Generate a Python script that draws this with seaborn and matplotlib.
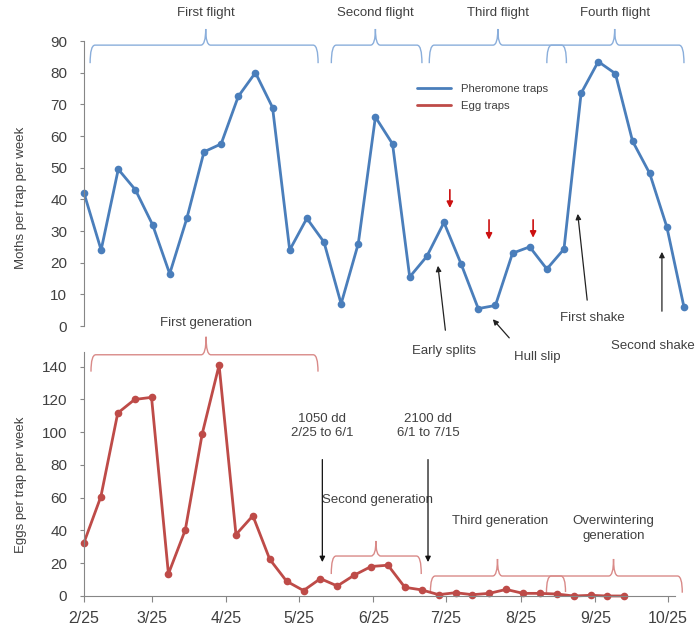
import pandas as pd
import matplotlib
matplotlib.use('Agg')
import matplotlib.pyplot as plt
import seaborn as sns
from matplotlib.path import Path
from matplotlib.patches import PathPatch
from matplotlib.lines import Line2D

# weekly trap counts
moths = [42, 24, 49.5, 43, 32, 16.5, 34, 55, 57.5, 72.5, 80, 69, 24, 34, 26.5, 7,
         26, 66, 57.5, 15.5, 22, 32.7, 19.6, 5.5, 6.5, 23, 25, 18, 24.3, 73.5,
         83.5, 79.7, 58.4, 48.2, 31.3, 6]
eggs = [32.6, 60.7, 111.7, 120, 121.3, 13.5, 40.4, 99, 141, 37.5, 49, 22.4, 9,
        3.3, 10.6, 6.1, 12.7, 18, 18.8, 5.3, 3.7, 0.8, 2, 0.8, 1.6, 4, 1.6, 1.6,
        1.2, 0, 0.4, 0, 0]
tick_labels = ['2/25', '3/25', '4/25', '5/25', '6/25', '7/25', '8/25', '9/25', '10/25']
flights = ['First flight', 'Second flight', 'Third flight', 'Fourth flight']
generations = ['First generation', 'Second generation', 'Third generation',
               'Overwintering\ngeneration']

start = pd.Timestamp('2013-02-25')
moth_days = (pd.date_range(start, periods=len(moths), freq='7D') - start).days
egg_days = (pd.date_range(start, periods=len(eggs), freq='7D') - start).days
tick_days = [(pd.to_datetime('2013/' + t, format='%Y/%m/%d') - start).days for t in tick_labels]

df_moths = pd.DataFrame({'day': moth_days, 'moths': moths})
df_eggs = pd.DataFrame({'day': egg_days, 'eggs': eggs})

sns.set_style('white')
plt.rcParams['font.family'] = ['Liberation Sans', 'DejaVu Sans']

blue = '#4a7ebb'
red = '#be4b48'
blue_br = '#8aaedb'
red_br = '#d98a88'
txt = '#404040'
grey = '#868686'
fs = 9.5


def brace(ax, x0, x1, xm, y_end, y_line, y_tip, color, r=2.0):
    verts = [(x0, y_end), (x0, y_line), (x0 + r, y_line),
             (xm - r, y_line), (xm, y_line), (xm, y_tip),
             (xm, y_line), (xm + r, y_line),
             (x1 - r, y_line), (x1, y_line), (x1, y_end)]
    codes = [Path.MOVETO, Path.CURVE3, Path.CURVE3,
             Path.LINETO, Path.CURVE3, Path.CURVE3,
             Path.CURVE3, Path.CURVE3,
             Path.LINETO, Path.CURVE3, Path.CURVE3]
    ax.add_patch(PathPatch(Path(verts, codes), fill=False, edgecolor=color,
                           lw=1.0, clip_on=False))


def style_axis(ax):
    for s in ['top', 'right']:
        ax.spines[s].set_visible(False)
    ax.spines['left'].set_color(grey)
    ax.spines['bottom'].set_color(grey)
    ax.tick_params(axis='both', direction='out', length=3, color=grey,
                   labelsize=11, labelcolor=txt, left=True, bottom=True)
    ax.tick_params(axis='y', pad=9)


fig = plt.figure(figsize=(6.97, 6.3), dpi=100)
ax1 = fig.add_axes([0.1205, 0.4825, 0.8608, 0.4524])
ax2 = fig.add_axes([0.1205, 0.054, 0.848, 0.3873])
ax1.set_zorder(3)
ax1.patch.set_visible(False)
ax2.patch.set_visible(False)

# top panel: pheromone traps
sns.lineplot(data=df_moths, x='day', y='moths', ax=ax1, color=blue, linewidth=2,
             marker='o', markersize=5.5, markeredgewidth=0, clip_on=False)
style_axis(ax1)
ax1.spines['bottom'].set_visible(False)
ax1.set_xlim(0, 245)
ax1.set_ylim(0, 90)
ax1.set_yticks(range(0, 91, 10))
ax1.set_xticks([])
ax1.set_xlabel('')
ax1.set_ylabel('Moths per trap per week', fontsize=fs, color=txt)
ax1.yaxis.set_label_coords(-0.095, 0.45)

top_spans = [(2.5, 95.6, 49.7), (101, 138, 119), (141, 197, 169), (189, 245, 216.7)]
for name, (a, b, m) in zip(flights, top_spans):
    brace(ax1, a, b, m, 83, 88.7, 93.8, blue_br)
    ax1.text(m, 98.8, name, ha='center', va='center', fontsize=fs, color=txt, clip_on=False)

for xd, y0, y1 in [(149.4, 43.9, 36.4), (165.4, 34.4, 26.4), (183.4, 34.4, 27.0)]:
    ax1.annotate('', xy=(xd, y1), xytext=(xd, y0), annotation_clip=False,
                 arrowprops=dict(arrowstyle='-|>', color='#cc1111', lw=1.2, mutation_scale=9))

notes = [('Early splits', (144.4, 19.9), (147.7, -2.2), (146.9, -7.9)),
         ('Hull slip', (166.2, 2.8), (174.4, -4.4), (185.0, -9.8)),
         ('First shake', (201.5, 36.3), (205.6, 7.3), (207.6, 2.5)),
         ('Second shake', (236.0, 24.3), (236.0, 3.8), (232.3, -6.3))]
for label, head, tail, pos in notes:
    ax1.annotate('', xy=head, xytext=tail, annotation_clip=False,
                 arrowprops=dict(arrowstyle='-|>', color='#222222', lw=0.9, mutation_scale=8))
    ax1.text(pos[0], pos[1], label, ha='center', va='center', fontsize=fs, color=txt,
             clip_on=False)

handles = [Line2D([], [], color=blue, lw=2), Line2D([], [], color=red, lw=2)]
ax1.legend(handles, ['Pheromone traps', 'Egg traps'], loc='upper left',
           bbox_to_anchor=(0.598, 0.866), bbox_transform=fig.transFigure,
           frameon=False, fontsize=8.2, handlelength=3.0, handletextpad=0.85,
           labelspacing=0.6, borderpad=0, borderaxespad=0, labelcolor=txt)

# bottom panel: egg traps
sns.lineplot(data=df_eggs, x='day', y='eggs', ax=ax2, color=red, linewidth=2,
             marker='o', markersize=5.5, markeredgewidth=0, clip_on=False)
style_axis(ax2)
ax2.set_xlim(0, 245)
ax2.set_ylim(0, 149)
ax2.set_yticks(range(0, 141, 20))
ax2.set_xticks(tick_days)
ax2.set_xticklabels(tick_labels)
ax2.tick_params(axis='x', pad=7, length=4, labelsize=11.5)
ax2.set_xlabel('')
ax2.set_ylabel('Eggs per trap per week', fontsize=fs, color=txt)
ax2.yaxis.set_label_coords(-0.0964, 0.455)

gen_spans = [(2.9, 97, 50.6, 137, 147.3, 158.3, 166.9),
             (102.5, 139.8, 121, 13.4, 24.4, 33.6, 58.7),
             (143.6, 199.6, 171.4, 2.4, 12.2, 22.6, 45.8),
             (191.7, 248, 219.5, 2.0, 12.2, 22.6, 41.0)]
for name, (a, b, m, ye, yl, yt, ty) in zip(generations, gen_spans):
    brace(ax2, a, b, m, ye, yl, yt, red_br)
    tx = 121.6 if name.startswith('Second') else (172.6 if name.startswith('Third') else m)
    ax2.text(tx, ty, name, ha='center', va='center', fontsize=fs, color=txt,
             linespacing=1.3, clip_on=False)

for label, xd in [('1050 dd\n2/25 to 6/1', 98.8), ('2100 dd\n6/1 to 7/15', 142.6)]:
    ax2.text(xd, 103.9, label, ha='center', va='center', fontsize=fs, color=txt,
             linespacing=1.15)
    ax2.annotate('', xy=(xd, 19), xytext=(xd, 85), annotation_clip=False,
                 arrowprops=dict(arrowstyle='-|>', color='#111111', lw=0.9, mutation_scale=8))

plt.savefig('out.png', dpi=100)
